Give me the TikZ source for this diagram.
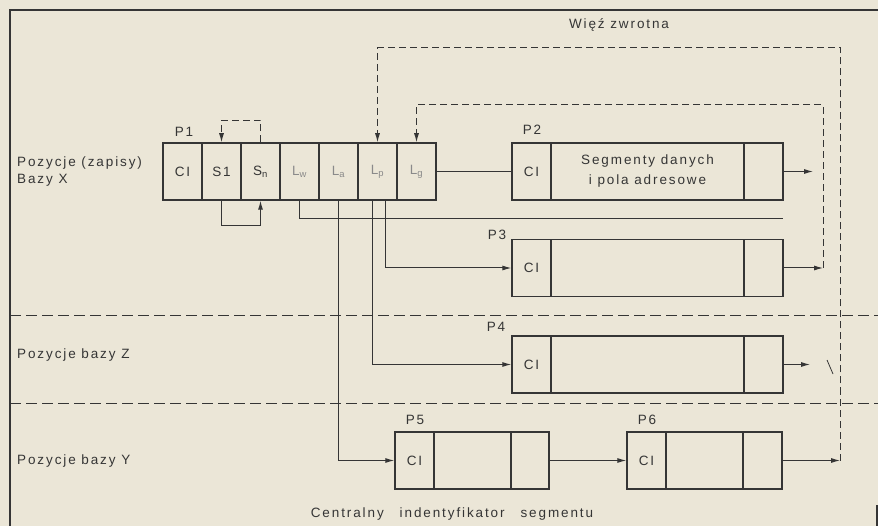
\documentclass[tikz,border=0pt]{standalone}
\usepackage{fontspec}
\setmainfont{Liberation Sans}[LetterSpace=14]
\usetikzlibrary{arrows.meta}
\definecolor{paper}{HTML}{EBE6D7}
\definecolor{ink}{HTML}{353535}
\definecolor{faint}{HTML}{8A8A8A}
\newcommand\cellfont{\fontsize{13.5}{16}\selectfont}
\begin{document}
\begin{tikzpicture}[x=1pt,y=-1pt,
  cell/.style={draw=ink, line width=1.5pt, inner sep=0pt, minimum height=57pt, text=ink, font=\cellfont},
  narrow/.style={cell, minimum width=39pt},
  lcell/.style={narrow, text=faint},
  lbl/.style={text=ink, inner sep=0pt, font=\cellfont},
  conn/.style={draw=ink, line width=1pt},
  arr/.style={conn, -{Latex[length=9pt,width=5pt]}},
  fb/.style={draw=ink, line width=1pt, dash pattern=on 7pt off 4pt},
  fbarr/.style={fb, -{Latex[length=9pt,width=5pt]}},
  sep/.style={draw=ink, line width=1pt, dash pattern=on 11pt off 5pt}
]
\useasboundingbox (0,0) rectangle (878,526);
\fill[paper] (0,0) rectangle (878,526);
% frame
\draw[conn, line width=1.2pt] (10,526) -- (10,10) -- (878,10);
\draw[conn, line width=1.2pt] (877,505) -- (877,526);
% separators
\draw[sep] (10,316) -- (878,316);
\draw[sep] (10,403) -- (878,403);
% row labels
\node[lbl, anchor=west, align=left, font=\fontsize{13.5}{17}\selectfont] (rx) at (17,171.5) {Pozycje (zapisy)\\Bazy X};
\node[lbl, anchor=west] (rz) at (17,355) {Pozycje bazy Z};
\node[lbl, anchor=west] (ry) at (17,461) {Pozycje bazy Y};
\node[lbl] (fbt) at (619,25) {Więź zwrotna};
\node[lbl] (cis) at (452,514) {\spaceskip=16pt\relax Centralny indentyfikator segmentu};
% P1
\node[lbl] (lp1) at (184,132) {P1};
\node[narrow] (p1cl) at (182.5,171.5) {CI};
\node[narrow] (p1s1) at (221.5,171.5) {S1};
\node[narrow] (p1sn) at (260.5,171.5) {S\textsubscript{n}};
\node[lcell] (p1lw) at (299.5,171.5) {L\textsubscript{w}};
\node[lcell] (p1la) at (338.5,171.5) {L\textsubscript{a}};
\node[lcell] (p1lp) at (377.5,171.5) {L\textsubscript{p}};
\node[lcell] (p1lg) at (416.5,171.5) {L\textsubscript{g}};
% P2
\node[lbl] (lp2) at (532,130) {P2};
\node[narrow] (p2cl) at (531.5,171.5) {CI};
\node[cell, minimum width=193pt, align=center, font=\fontsize{13.5}{20}\selectfont] (p2mid) at (647.5,171.5) {Segmenty danych\\i pola adresowe};
\node[narrow] (p2end) at (763.5,171.5) {};
% P3
\node[lbl] (lp3) at (497,235) {P3};
\node[narrow] (p3cl) at (531.5,268) {CI};
\node[cell, minimum width=193pt] (p3mid) at (647.5,268) {};
\node[narrow] (p3end) at (763.5,268) {};
% P4
\node[lbl] (lp4) at (496,327) {P4};
\node[narrow] (p4cl) at (531.5,364.5) {CI};
\node[cell, minimum width=193pt] (p4mid) at (647.5,364.5) {};
\node[narrow] (p4end) at (763.5,364.5) {};
% P5
\node[lbl] (lp5) at (415,420) {P5};
\node[narrow] (p5cl) at (414.5,460.5) {CI};
\node[cell, minimum width=77pt] (p5mid) at (472.5,460.5) {};
\node[cell, minimum width=38pt] (p5end) at (530,460.5) {};
% P6
\node[lbl] (lp6) at (647,420) {P6};
\node[narrow] (p6cl) at (646.5,460.5) {CI};
\node[cell, minimum width=77pt] (p6mid) at (704.5,460.5) {};
\node[narrow] (p6end) at (762.5,460.5) {};
% coordinates
\coordinate (lwend) at (783,219);
\coordinate (p2out) at (813,171.5);
\coordinate (p4out) at (810,364.5);
\coordinate (fbA) at (823,268);
\coordinate (fbAtop) at (823,105);
\coordinate (fbB) at (840,460.5);
\coordinate (fbBtop) at (840,48);
\coordinate (tickA) at (827,360);
\coordinate (tickB) at (833,374);
% S loops
\draw[fbarr] (p1sn.north) -- ++(0,-22) -| (p1s1.north);
\draw[arr] (p1s1.south) -- ++(0,25) -| (p1sn.south);
% pointers
\draw[conn] (p1lg.east) -- (p2cl.west);
\draw[conn] (p1lw.south) |- (lwend);
\draw[arr] (p1la.south) |- (p5cl.west);
\draw[arr] ([xshift=-5.5pt]p1lp.south) |- (p4cl.west);
\draw[arr] ([xshift=7.5pt]p1lp.south) |- (p3cl.west);
\draw[arr] (p5end.east) -- (p6cl.west);
\draw[arr] (p2end.east) -- (p2out);
\draw[arr] (p4end.east) -- (p4out);
\draw[conn, line width=0.8pt] (tickA) -- (tickB);
% feedback
\draw[arr] (p3end.east) -- (fbA);
\draw[fbarr] (fbA) -- (fbAtop) -| (p1lg.north);
\draw[arr] (p6end.east) -- (fbB);
\draw[fbarr] (fbB) -- (fbBtop) -| (p1lp.north);
\end{tikzpicture}
\end{document}
